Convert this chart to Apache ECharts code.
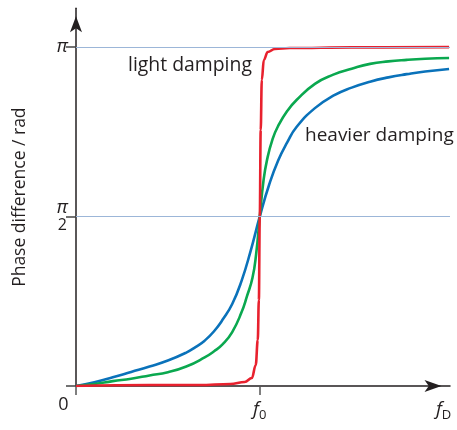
<!DOCTYPE html>
<html>
<head>
<meta charset="utf-8">
<script src="https://cdn.jsdelivr.net/npm/echarts@6/dist/echarts.min.js"></script>
<style>
  html, body { margin: 0; padding: 0; background: #fff; }
  #chart { width: 457px; height: 430px; }
</style>
</head>
<body>
<div id="chart"></div>
<script>
// Driving frequency in units of the natural frequency f0
const xTickValues = [0, 1];
const xLabelValues = [0, 1, 2];
const yTickValues = [0, Math.PI / 2, Math.PI];
const yLabelValues = [Math.PI / 2, Math.PI];

// Light damping (red)
const redF     = [0, 0.40, 0.67, 0.84, 0.918, 0.957, 0.978, 0.989, 0.995, 1.0, 1.005, 1.011, 1.022, 1.043, 1.082, 1.163, 1.5, 2.03];
const redPhase = [0, 0.009, 0.009, 0.019, 0.037, 0.074, 0.195, 0.426, 0.797, 1.571, 2.372, 2.836, 3.021, 3.095, 3.123, 3.132, 3.138, 3.140];

// Medium damping (green)
const greenF     = [0, 0.1, 0.2, 0.3, 0.4, 0.5, 0.6, 0.7, 0.75, 0.8, 0.85, 0.9, 0.93, 0.96, 0.98, 1.0, 1.02, 1.04, 1.07, 1.1, 1.15, 1.2, 1.3, 1.4, 1.5, 1.6, 1.7, 1.8, 1.9, 2.03];
const greenPhase = [0, 0.018, 0.045, 0.068, 0.098, 0.128, 0.18, 0.265, 0.32, 0.39, 0.50, 0.68, 0.83, 1.00, 1.22, 1.571, 1.90, 2.10, 2.29, 2.41, 2.55, 2.65, 2.80, 2.885, 2.94, 2.985, 3.008, 3.022, 3.032, 3.040];

// Heavier damping (blue)
const blueF     = [0, 0.1, 0.2, 0.3, 0.4, 0.5, 0.6, 0.65, 0.7, 0.75, 0.8, 0.85, 0.9, 0.95, 1.0, 1.05, 1.1, 1.15, 1.2, 1.3, 1.4, 1.5, 1.6, 1.7, 1.8, 1.9, 2.03];
const bluePhase = [0, 0.035, 0.080, 0.130, 0.180, 0.236, 0.31, 0.36, 0.42, 0.505, 0.62, 0.76, 0.97, 1.25, 1.571, 1.86, 2.09, 2.26, 2.40, 2.575, 2.69, 2.765, 2.82, 2.86, 2.89, 2.915, 2.938];

const pairs = (xs, ys) => xs.map((x, i) => [x, ys[i]]);

const FONT = '"Open Sans", "Noto Sans", sans-serif';
const INK = '#231f20';

const chart = echarts.init(document.getElementById('chart'), null, { renderer: 'canvas' });

const curve = (name, color, data, monotone) => ({
  name, type: 'line', data, showSymbol: false,
  smooth: monotone ? 0.4 : 0.5, smoothMonotone: monotone ? 'x' : null,
  lineStyle: { color, width: 2.6 }, z: 3, silent: true
});

chart.setOption({
  animation: false,
  backgroundColor: '#fff',
  grid: { left: 76, right: 7, top: 8.3, bottom: 44, containLabel: false },
  xAxis: {
    type: 'value', min: 0, max: 2.035,
    axisLine: { show: true, lineStyle: { color: INK, width: 1.5 }, symbol: ['none', 'arrow'], symbolSize: [9, 17], symbolOffset: [0, -8.5] },
    axisTick: { show: true, customValues: xTickValues, length: 9, lineStyle: { color: '#555', width: 1.5 } },
    splitLine: { show: false },
    axisLabel: {
      customValues: xLabelValues, margin: 10, color: INK, fontFamily: FONT,
      formatter: v => v === 0 ? '{z|0}' : (v === 1 ? '{f|f}{s|0}' : '{f|f}{s|D}'),
      rich: {
        z: { fontSize: 18, fontFamily: FONT, color: INK, padding: [0, 25, 0, 0], lineHeight: 18 },
        f: { fontSize: 19, fontStyle: 'italic', fontFamily: FONT, color: INK, lineHeight: 22, padding: [6, 0, 0, 0] },
        s: { fontSize: 13, fontFamily: FONT, color: INK, lineHeight: 13, padding: [16, 0, 0, 0] }
      }
    }
  },
  yAxis: {
    type: 'value', min: 0, max: 3.5,
    name: 'Phase difference / rad', nameLocation: 'middle', nameGap: 47,
    nameTextStyle: { fontSize: 17.5, fontFamily: FONT, color: INK },
    axisLine: { show: true, lineStyle: { color: INK, width: 1.5 }, symbol: ['none', 'arrow'], symbolSize: [9, 16], symbolOffset: [0, -8] },
    axisTick: { show: true, customValues: yTickValues, length: 10, lineStyle: { color: '#444', width: 1.5 } },
    splitLine: { show: false },
    axisLabel: {
      customValues: yLabelValues, margin: 8, color: INK, fontFamily: FONT,
      formatter: v => v > 3 ? '{p|π}' : '{n|π}\n{d|2}',
      rich: {
        p: { fontSize: 19, fontStyle: 'italic', fontFamily: FONT, color: INK, align: 'center' },
        n: { fontSize: 19, fontStyle: 'italic', fontFamily: FONT, color: INK, lineHeight: 18, align: 'center' },
        d: { fontSize: 16, fontFamily: FONT, color: INK, lineHeight: 17, align: 'center' }
      }
    }
  },
  graphic: [
    { type: 'text', left: 128, top: 56, style: { text: 'light damping', font: '19.4px ' + FONT, fill: INK } },
    { type: 'text', left: 305, top: 126, style: { text: 'heavier damping', font: '19px ' + FONT, fill: INK } }
  ],
  series: [
    {
      type: 'line', data: [], silent: true,
      markLine: {
        silent: true, symbol: 'none', label: { show: false }, animation: false,
        lineStyle: { color: '#9cb6d8', width: 1.2, type: 'solid' },
        data: yLabelValues.map(v => ({ yAxis: v }))
      }
    },
    curve('heavier damping', '#0a72ba', pairs(blueF, bluePhase), false),
    curve('medium damping', '#0aa84f', pairs(greenF, greenPhase), false),
    curve('light damping', '#e8212e', pairs(redF, redPhase), true)
  ]
});
</script>
</body>
</html>
